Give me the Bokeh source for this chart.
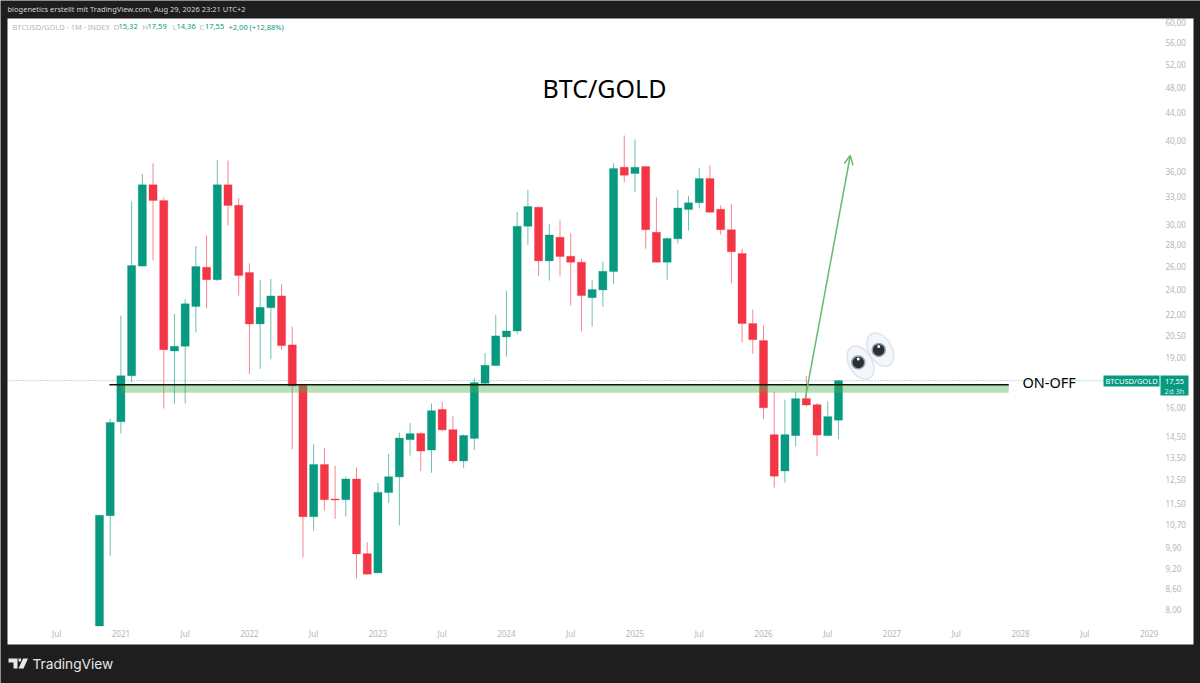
from bokeh.embed import file_html
from bokeh.models import (Arrow, BoxAnnotation, ColumnDataSource, FixedTicker,
                          Label, OpenHead, PolyAnnotation, Range1d)
from bokeh.plotting import figure
from bokeh.resources import INLINE
import numpy as np

# monthly candles, index 0 = Jan 2021, first candle Nov 2020
START_MONTH = -2
OPEN = [7.56, 11.04, 15.24, 17.85, 26.00, 34.37, 32.56, 19.43, 19.75, 22.63, 25.90, 24.82,
        34.37, 32.04, 25.43, 21.32, 22.54, 23.47, 19.84, 17.27, 11.00, 13.16, 11.69, 11.66,
        12.52, 9.69, 9.07, 11.95, 12.61, 14.33, 14.64, 13.83, 15.90, 14.83, 13.32, 14.39,
        17.39, 18.48, 20.39, 20.81, 29.81, 31.83, 26.47, 28.70, 26.90, 26.35, 23.33, 23.96,
        25.52, 36.50, 35.73, 36.59, 29.20, 26.35, 28.55, 31.57, 32.31, 35.11, 31.60, 29.47,
        27.15, 21.35, 20.14, 14.58, 12.87, 14.53, 16.50, 16.16, 14.53, 15.32]
HIGH = [11.06, 15.40, 21.94, 32.48, 35.69, 37.01, 32.93, 22.07, 23.20, 27.87, 28.90, 37.44,
        37.35, 32.86, 26.26, 24.80, 24.88, 24.43, 21.13, 17.27, 14.12, 13.92, 13.10, 12.62,
        13.03, 10.08, 12.35, 13.64, 14.68, 15.17, 14.68, 16.23, 16.31, 15.54, 14.58, 17.72,
        19.30, 22.00, 23.90, 31.32, 33.78, 31.90, 30.06, 30.40, 29.10, 26.66, 24.82, 26.41,
        37.01, 40.71, 40.15, 36.59, 32.93, 28.70, 33.78, 33.10, 36.45, 36.76, 32.04, 32.20,
        27.60, 22.40, 21.20, 16.90, 16.43, 16.90, 17.83, 16.25, 16.34, 17.59]
LOW = [7.56, 9.62, 14.63, 17.45, 25.96, 26.50, 15.95, 16.20, 16.23, 20.71, 22.49, 24.71,
       29.88, 23.50, 17.96, 18.27, 18.88, 19.52, 13.87, 9.56, 10.48, 11.23, 10.92, 11.01,
       8.90, 9.01, 9.06, 11.53, 10.68, 13.57, 12.86, 12.79, 14.75, 13.21, 12.99, 13.84,
       17.21, 18.48, 19.06, 20.57, 27.97, 25.11, 24.74, 25.17, 22.70, 20.78, 21.13, 22.60,
       24.46, 34.68, 33.50, 27.60, 26.35, 24.82, 28.12, 29.37, 31.70, 31.28, 28.96, 24.51,
       20.02, 19.23, 15.38, 12.16, 12.37, 14.00, 16.06, 13.56, 14.53, 14.36]
CLOSE = [11.06, 15.20, 17.85, 26.05, 34.37, 32.56, 19.52, 19.75, 22.84, 25.96, 24.82, 34.37,
         32.01, 25.17, 21.32, 22.57, 23.47, 19.79, 17.23, 11.00, 13.16, 11.66, 11.65, 12.52,
         9.68, 9.03, 11.96, 12.62, 14.41, 14.63, 13.78, 15.83, 14.82, 13.32, 14.54, 17.43,
         18.50, 20.46, 20.81, 29.81, 31.90, 26.47, 28.94, 26.87, 26.35, 23.50, 23.99, 25.54,
         36.34, 35.52, 36.50, 29.47, 26.35, 28.58, 31.75, 32.31, 35.11, 31.28, 29.47, 27.31,
         21.35, 20.20, 15.99, 12.64, 14.58, 16.50, 16.14, 14.56, 15.51, 17.55]

PRICE_TICKS = [60, 56, 52, 48, 44, 40, 36, 33, 30, 28, 26, 24, 22, 20.5, 19, 16,
               14.5, 13.5, 12.5, 11.5, 10.7, 9.9, 9.2, 8.6, 8]
TIME_TICKS = [-6, 0, 6, 12, 18, 24, 30, 36, 42, 48, 54, 60, 66, 72, 78, 84, 90, 96]
TIME_LABELS = ["Jul", "2021", "Jul", "2022", "Jul", "2023", "Jul", "2024", "Jul", "2025",
               "Jul", "2026", "Jul", "2027", "Jul", "2028", "Jul", "2029"]

LAST_PRICE = 17.55
PRICE_LINE_START, PRICE_LINE_END = -10.588, 91.75
ZONE_TOP, ZONE_BOTTOM = 17.31, 16.84
ZONE_START, LINE_START, ZONE_END = 0.0, -1.07, 82.9
ARROW_FROM = (63.9, 16.5)
ARROW_TO = (68.1, 38.0)

GREEN = "#089981"
RED = "#f23645"
DARK = "#1e1e1e"
GREY = "#b2b5be"
FONT = "Noto Sans"

# the frame fills the whole page, the dark band and the white pane are drawn in it
p = figure(frame_width=1200, frame_height=683,
           x_range=Range1d(-11.242, 100.803), y_range=Range1d(6.205, 64.71),
           y_axis_type="log", y_axis_location="right",
           toolbar_location=None, tools="", output_backend="svg",
           background_fill_color=DARK, border_fill_color=DARK,
           min_border_left=0, min_border_right=0, min_border_top=0, min_border_bottom=0)
p.outline_line_color = None
p.grid.visible = False

p.xaxis.ticker = FixedTicker(ticks=TIME_TICKS)
p.xaxis.major_label_overrides = dict(zip(TIME_TICKS, TIME_LABELS))
p.yaxis.ticker = FixedTicker(ticks=PRICE_TICKS)
p.yaxis.major_label_overrides = {t: f"{t:.2f}".replace(".", ",") for t in PRICE_TICKS}
for ax in (p.xaxis, p.yaxis):
    ax.axis_line_color = None
    ax.major_tick_line_color = None
    ax.minor_tick_line_color = None
    ax.major_tick_out = 0
    ax.major_label_text_color = GREY
    ax.major_label_text_font = FONT
    ax.major_label_text_font_size = "8px"
p.xaxis.major_label_standoff = -56
p.yaxis.major_label_standoff = -35


def canvas_label(text, x, y, size, color, font=FONT, align="left"):
    p.add_layout(Label(text=text, x=x, y=y, x_units="canvas", y_units="canvas",
                       text_font=font, text_font_size=f"{size}px", text_color=color,
                       text_align=align, text_baseline="middle", level="annotation"))


def canvas_box(x0, x1, y0, y1, color, level="annotation"):
    p.add_layout(BoxAnnotation(left=x0, right=x1, top=y0, bottom=y1,
                               left_units="canvas", right_units="canvas",
                               top_units="canvas", bottom_units="canvas",
                               fill_color=color, fill_alpha=1, line_color=None, level=level))


# white pane
canvas_box(7, 1193, 18, 644, "white", level="underlay")

p.segment([PRICE_LINE_START], [LAST_PRICE], [PRICE_LINE_END], [LAST_PRICE], line_color=GREEN,
          line_alpha=0.6, line_dash="1 2", line_width=1)

months = np.arange(len(OPEN)) + START_MONTH
opens, closes = np.array(OPEN), np.array(CLOSE)
for mask, color in ((closes >= opens, GREEN), (closes < opens, RED)):
    src = ColumnDataSource(dict(x=months[mask], o=opens[mask], c=closes[mask],
                                h=np.array(HIGH)[mask], l=np.array(LOW)[mask]))
    p.segment("x", "h", "x", "l", source=src, line_color=color, line_alpha=0.6, line_width=1)
    p.vbar("x", 0.76, "o", "c", source=src, fill_color=color, line_color=color, line_alpha=0.3)

# support zone
p.quad(left=[ZONE_START], right=[ZONE_END], top=[ZONE_TOP], bottom=[ZONE_BOTTOM],
       fill_color="#4caf50", fill_alpha=0.4, line_color=None)
p.segment([LINE_START], [ZONE_TOP], [ZONE_END], [ZONE_TOP], line_color="#0b1a0b", line_width=1.5)

p.add_layout(Arrow(end=OpenHead(size=9, line_color="#66bb6a", line_width=1.5),
                   x_start=ARROW_FROM[0], y_start=ARROW_FROM[1],
                   x_end=ARROW_TO[0], y_end=ARROW_TO[1],
                   line_color="#66bb6a", line_width=1.5))

# eyes
EYE_X, EYE_Y = [69.06, 70.9], [18.67, 19.52]
PUPIL_X, PUPIL_Y = [68.85, 70.76], [18.68, 19.50]
p.ellipse(EYE_X, EYE_Y, width=36, height=23, angle=-1.05, width_units="screen", height_units="screen",
          fill_color="#f4f6fa", line_color="#dfe4ec", line_width=1.5)
p.scatter(PUPIL_X, PUPIL_Y, size=13, fill_color="#2b2f36", line_color="#93a3b8", line_width=1.5)
p.scatter(PUPIL_X, [y * 1.012 for y in PUPIL_Y], size=3, fill_color="white", line_color=None)

# header and legend line
canvas_label("biogenetics erstellt mit TradingView.com, Aug 29, 2026 23:21 UTC+2", 7, 8.5, 7.5, "#d1d4dc")
canvas_label("BTCUSD/GOLD · 1M · INDEX", 12, 26, 7.5, GREY)
for txt, x, col in [("O", 113, GREY), ("15,32", 118, GREEN), ("H", 142, GREY), ("17,59", 147, GREEN),
                    ("L", 172, GREY), ("14,36", 176, GREEN), ("C", 199, GREY), ("17,55", 204.5, GREEN),
                    ("+2,00 (+12,88%)", 228, GREEN)]:
    canvas_label(txt, x, 26, 7.5, col)

canvas_label("BTC/GOLD", 604, 87.5, 25, "#000000", align="center")
canvas_label("ON-OFF", 1022, 381.5, 14.5, "#000000")

# price tag
canvas_box(1103, 1159, 375, 386, GREEN)
canvas_box(1160, 1188, 375, 395, GREEN)
canvas_label("BTCUSD/GOLD", 1131, 380.5, 7.5, "white", align="center")
canvas_label("17,55", 1174, 380.5, 7.5, "white", align="center")
canvas_label("2d 3h", 1174, 390, 7.5, "#d1f0ea", align="center")

# TradingView logo
LOGO_SHAPES = [([8, 17, 17, 13, 13, 8], [658, 658, 668, 668, 662, 662]),
               ([18, 20.5, 20.5, 18], [658, 658, 661, 661]),
               ([22.5, 27.5, 23, 18], [658, 658, 668, 668])]
for xs, ys in LOGO_SHAPES:
    p.add_layout(PolyAnnotation(xs=xs, ys=ys, xs_units="canvas", ys_units="canvas",
                                fill_color="#e8e8e8", fill_alpha=1, line_color=None, level="annotation"))
canvas_label("TradingView", 32, 663, 13.7, "#e8e8e8", font="Inter")

open("out.html", "w").write(file_html(p, INLINE))
